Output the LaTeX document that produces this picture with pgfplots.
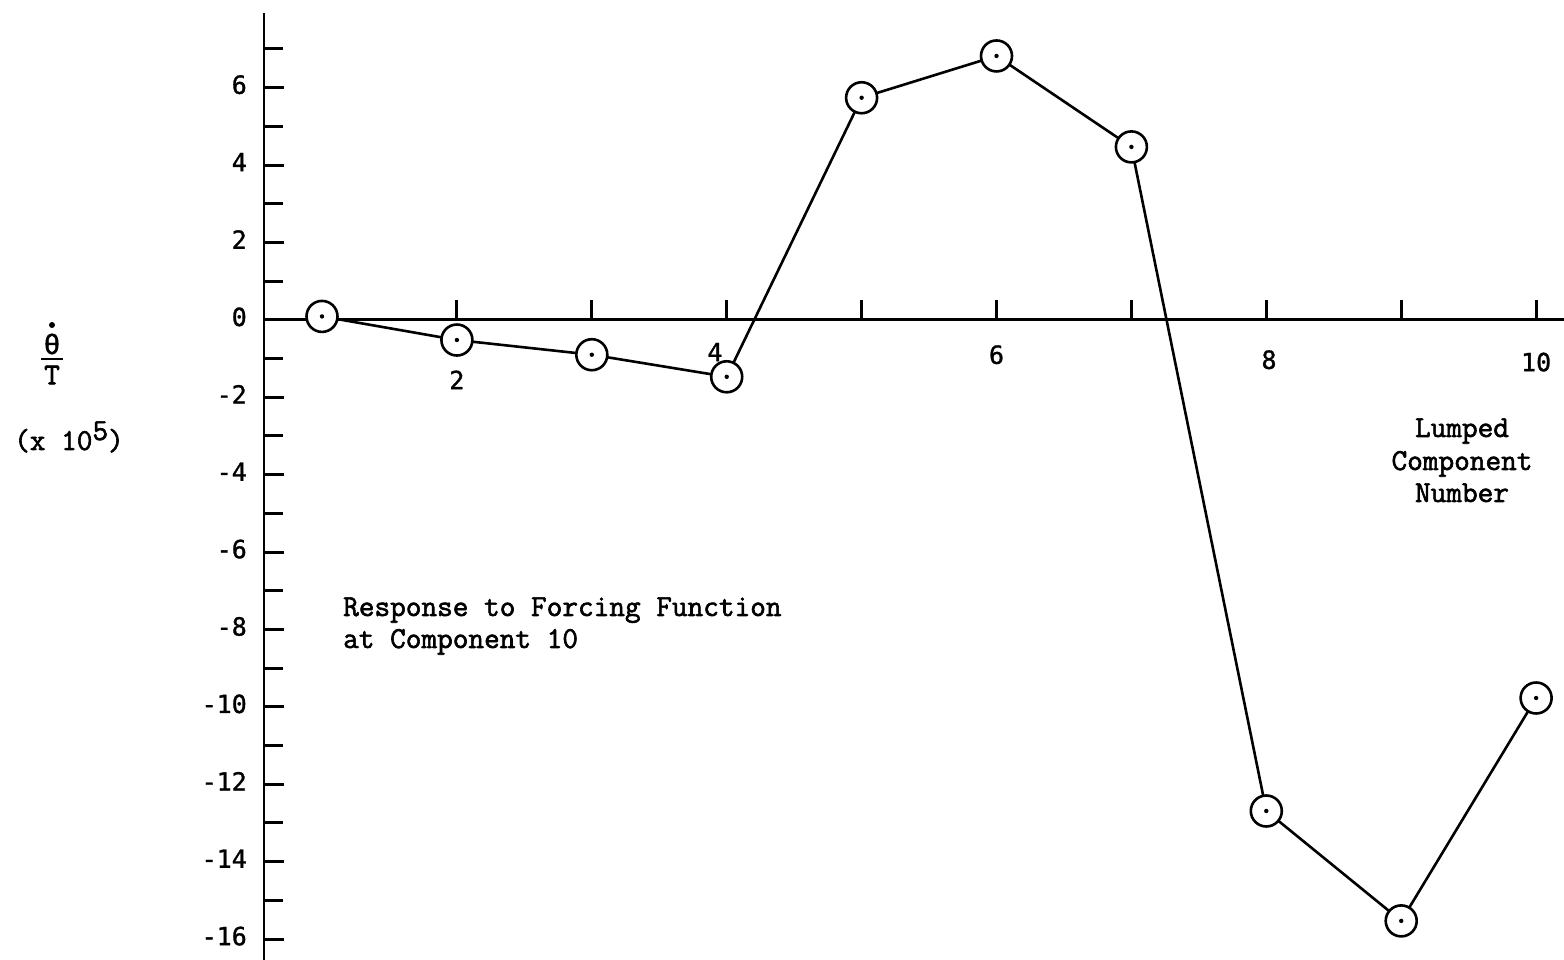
\documentclass[border=0pt]{standalone}
\usepackage{pgfplots}
\pgfplotsset{compat=1.18}
\usepackage{fontspec}
\setmainfont{Liberation Mono}[FakeBold=1.6]
\setmonofont{Latin Modern Mono}[FakeBold=2]
\newfontfamily\numfont{DejaVu Sans Mono}[FakeBold=1.2]
\newcommand\txt{\ttfamily\fontsize{30.4}{32}\selectfont}

% open circle with a centre dot
\pgfdeclareplotmark{dotcircle}{%
  \pgfpathcircle{\pgfpointorigin}{\pgfplotmarksize}%
  \pgfsetfillcolor{white}%
  \pgfusepathqfillstroke
  \pgfpathcircle{\pgfpointorigin}{2.2pt}%
  \pgfsetfillcolor{black}%
  \pgfusepathqfill
}

\begin{document}
\begin{tikzpicture}[x=1pt,y=1pt]
\useasboundingbox (0,0) rectangle (1564,960);
\begin{axis}[
  at={(264pt,0pt)}, anchor=south west,
  x=134.9pt, y=38.7pt,
  xmin=0.57, xmax=10.21, ymin=-16.54, ymax=7.93,
  axis x line=middle, axis y line=left,
  axis line style={-, line width=2.8pt, black},
  clip=false,
  xtick={2,...,10}, xticklabels={},
  ytick={-16,-14,...,6},
  minor ytick={-15,-13,...,7},
  tick align=inside,
  major tick length=20pt, minor tick length=19pt,
  every tick/.style={line width=3pt, black},
  /pgf/number format/assume math mode=true,
  yticklabel style={font=\numfont\fontsize{25}{25}\selectfont, inner sep=0pt, anchor=east, xshift=-17pt, yshift=3pt},
]
\addplot[line width=2.6pt, black, mark=dotcircle, mark size=15.5pt,
         mark options={line width=2.6pt}]
  coordinates {
    (1, 0.09) (2, -0.52) (3, -0.90) (4, -1.47) (5, 5.74)
    (6, 6.82) (7, 4.47) (8, -12.69) (9, -15.53) (10, -9.77)
  };
\node[font=\numfont\fontsize{25}{25}\selectfont, inner sep=0pt] at (axis cs:2,-1.55) {2};
\node[font=\numfont\fontsize{25}{25}\selectfont, inner sep=0pt] at (axis cs:3.913,-0.83) {4};
\node[font=\numfont\fontsize{25}{25}\selectfont, inner sep=0pt] at (axis cs:6,-0.90) {6};
\node[font=\numfont\fontsize{25}{25}\selectfont, inner sep=0pt] at (axis cs:8.02,-1.03) {8};
\node[font=\numfont\fontsize{25}{25}\selectfont, inner sep=0pt] at (axis cs:10,-1.09) {10};
\end{axis}

% annotation and axis titles
\node[anchor=base west, inner sep=0pt, font=\txt] at (343,{960-616}) {Response to Forcing Function};
\node[anchor=base west, inner sep=0pt, font=\txt] at (343,{960-648}) {at Component 10};

\node[anchor=base, inner sep=0pt, font=\txt] at (1462,{960-437}) {Lumped};
\node[anchor=base, inner sep=0pt, font=\txt] at (1462,{960-470}) {Component};
\node[anchor=base, inner sep=0pt, font=\txt] at (1462,{960-502}) {Number};

\fill (52,{960-325}) circle (3pt);
\node[inner sep=0pt, font=\fontsize{28}{32}\selectfont] at (52,{960-344}) {θ};
\draw[line width=2.2pt] (41,{960-359}) -- (63,{960-359});
\node[inner sep=0pt, font=\txt] at (52,{960-375}) {T};
\node[anchor=base west, inner sep=0pt, font=\txt] at (14,{960-450}) {(x 10\raisebox{10pt}{5})};
\end{tikzpicture}
\end{document}
